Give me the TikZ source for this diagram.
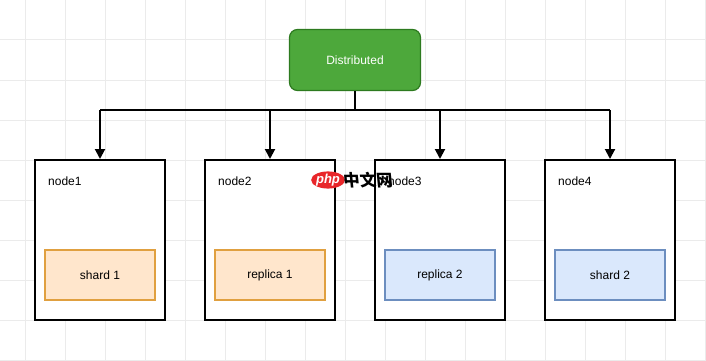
\documentclass[tikz,border=0pt]{standalone}
\usepackage{fontspec}
\setmainfont{Liberation Sans}
\newfontfamily\cjk{Noto Sans CJK SC}
\usetikzlibrary{arrows.meta,shapes.geometric}
\definecolor{gridc}{HTML}{EBEBEB}
\definecolor{greenfill}{HTML}{4DA83B}
\definecolor{greenline}{HTML}{2D7A1F}
\definecolor{orfill}{HTML}{FFE6CC}
\definecolor{orline}{HTML}{E0A040}
\definecolor{blfill}{HTML}{DAE8FC}
\definecolor{blline}{HTML}{6C8EBF}
\definecolor{phpred}{HTML}{E8262A}
\tikzset{
  server/.style={draw=black, line width=2pt, fill=white, minimum width=130pt, minimum height=160pt, inner sep=0pt},
  shardbox/.style={line width=1.5pt, minimum width=110pt, minimum height=50pt, inner sep=0pt, font=\fontsize{12}{14}\selectfont},
  orangebox/.style={shardbox, draw=orline, fill=orfill},
  bluebox/.style={shardbox, draw=blline, fill=blfill},
  lbl/.style={anchor=west, inner sep=0pt, font=\fontsize{12}{14}\selectfont},
  conn/.style={line width=2pt, -{Triangle[length=10pt,width=10pt]}},
}
\begin{document}
\begin{tikzpicture}[x=1pt,y=-1pt]
\useasboundingbox (0,0) rectangle (706,361);
\fill[white] (0,0) rectangle (706,361);
% grid
\foreach \x in {25,65,...,705} \draw[gridc, line width=1pt] (\x,0) -- (\x,361);
\foreach \y in {0,40,...,360} \draw[gridc, line width=1pt] (0,\y) -- (706,\y);
% top node
\node[draw=greenline, fill=greenfill, line width=1.2pt, rounded corners=8pt, minimum width=131pt, minimum height=61pt, text=white, font=\fontsize{12}{14}\selectfont] (dist) at (355,60) {Distributed};
% servers
\node[server] (n1) at (100,240) {};
\node[server] (n2) at (270,240) {};
\node[server] (n3) at (440,240) {};
\node[server] (n4) at (610,240) {};
\node[lbl] (l1) at (48,181) {node1};
\node[lbl] (l2) at (218,181) {node2};
\node[lbl] (l3) at (388,181) {node3};
\node[lbl] (l4) at (558,181) {node4};
\node[orangebox] (s1) at (100,275) {shard 1};
\node[orangebox] (s2) at (270,275) {replica 1};
\node[bluebox] (s3) at (440,275) {replica 2};
\node[bluebox] (s4) at (610,275) {shard 2};
% connectors
\coordinate (j) at (355,110);
\draw[line width=2pt] (dist.south) -- (j);
\draw[line width=2pt] (n1.north |- j) -- (n4.north |- j);
\foreach \n in {n1,n2,n3,n4} \draw[conn] (\n.north |- j) -- (\n.north);
% watermark
\node[fill=phpred, ellipse, minimum width=31pt, minimum height=16pt, inner sep=0pt, text=white, font=\fontsize{13}{13}\selectfont\itshape\bfseries] (php) at (328,180) {php};
\node[anchor=west, inner sep=0pt, font=\cjk\bfseries\fontsize{16.5}{16.5}\selectfont, xslant=-0.1] (cn) at (343,180) {中文网};
\end{tikzpicture}
\end{document}
